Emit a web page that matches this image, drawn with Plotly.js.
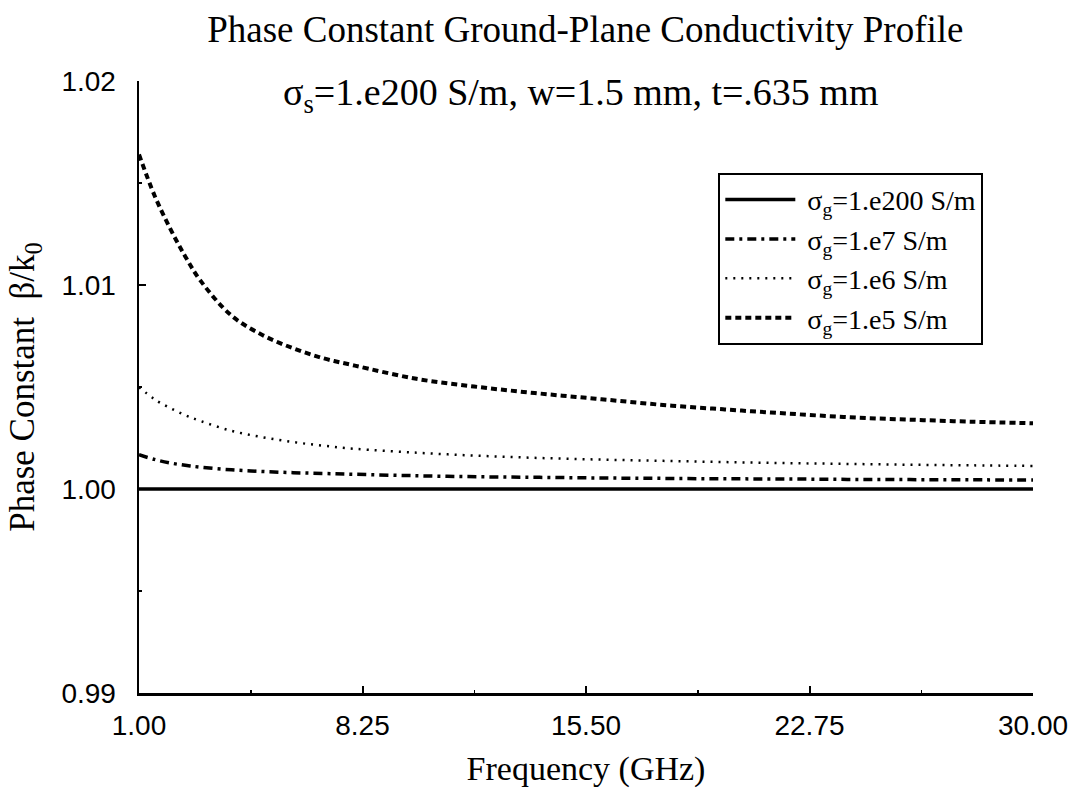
<!DOCTYPE html>
<html>
<head>
<meta charset="utf-8">
<script src="https://cdn.plot.ly/plotly-3.0.1.min.js"></script>
<style>html,body{margin:0;padding:0;background:#fff;}#chart{width:1073px;height:789px;}</style>
</head>
<body>
<div id="chart"></div>
<script>
// Frequency (GHz)
const freq = [1, 1.5, 2, 2.5, 3, 4, 5, 6, 7, 8, 10, 12, 14, 16, 18, 20, 22, 24, 26, 28, 30];
// Phase constant beta/k0 for each ground-plane conductivity
const beta_g200 = [1.0, 1.0, 1.0, 1.0, 1.0, 1.0, 1.0, 1.0, 1.0, 1.0, 1.0, 1.0, 1.0, 1.0, 1.0, 1.0, 1.0, 1.0, 1.0, 1.0, 1.0];
const beta_g7 = [1.00168, 1.00145, 1.00128, 1.00116, 1.00107, 1.00094, 1.00086, 1.00080, 1.00076, 1.00072, 1.00065, 1.00060, 1.00057, 1.00054, 1.00052, 1.00050, 1.00049, 1.00047, 1.00046, 1.00045, 1.00044];
const beta_g6 = [1.00500, 1.00440, 1.00398, 1.00362, 1.00333, 1.00285, 1.00254, 1.00230, 1.00212, 1.00197, 1.00178, 1.00163, 1.00152, 1.00144, 1.00138, 1.00132, 1.00127, 1.00123, 1.00119, 1.00116, 1.00113];
const beta_g5 = [1.01640, 1.01440, 1.01280, 1.01140, 1.01020, 1.00850, 1.00755, 1.00690, 1.00640, 1.00605, 1.00540, 1.00500, 1.00468, 1.00440, 1.00412, 1.00390, 1.00370, 1.00352, 1.00340, 1.00330, 1.00322];
const seriesNames = ["\u00A0\u03C3<sub>g</sub>=1.e200 S/m", "\u00A0\u03C3<sub>g</sub>=1.e7 S/m", "\u00A0\u03C3<sub>g</sub>=1.e6 S/m", "\u00A0\u03C3<sub>g</sub>=1.e5 S/m"];
const xTickVals = [1, 8.25, 15.5, 22.75, 30];
const yTickVals = [0.99, 1.00, 1.01, 1.02];

const serif = "Liberation Serif, Times New Roman, serif";
const sans = "Liberation Sans, Arial, sans-serif";

const traces = [
  {x: freq, y: beta_g200, name: seriesNames[0], mode: 'lines', line: {color: '#000', width: 3.5, dash: 'solid'}},
  {x: freq, y: beta_g7, name: seriesNames[1], mode: 'lines', line: {color: '#000', width: 3.5, dash: '9px,5px,3px,5px', shape: 'spline', smoothing: 1}},
  {x: freq, y: beta_g6, name: seriesNames[2], mode: 'lines', line: {color: '#000', width: 2.5, dash: '2px,6px', shape: 'spline', smoothing: 1}},
  {x: freq, y: beta_g5, name: seriesNames[3], mode: 'lines', line: {color: '#000', width: 4, dash: '6px,4px', shape: 'spline', smoothing: 1}}
];

const layout = {
  width: 1073, height: 789,
  paper_bgcolor: '#fff', plot_bgcolor: '#fff',
  margin: {l: 139, r: 40, t: 81, b: 96},
  showlegend: true,
  title: {text: 'Phase Constant Ground-Plane Conductivity Profile', font: {family: serif, size: 37, color: '#000'}, x: 0.5455, xanchor: 'center', y: 0.963, yanchor: 'middle'},
  xaxis: {
    range: [1, 30], tickmode: 'array', tickvals: xTickVals, tickformat: '.2f',
    ticks: 'inside', ticklen: 7, tickwidth: 2, tickcolor: '#000', ticklabelstandoff: 6,
    minor: {ticks: 'inside', ticklen: 3, tickwidth: 1.5, tickcolor: '#000', tickmode: 'linear', tick0: 1, dtick: 3.625},
    showline: true, linewidth: 2.5, linecolor: '#000', showgrid: false, zeroline: false,
    tickfont: {family: sans, size: 28, color: '#000'},
    title: {text: 'Frequency (GHz)', font: {family: serif, size: 34, color: '#000'}, standoff: 16}
  },
  yaxis: {
    range: [0.99, 1.02], tickmode: 'array', tickvals: yTickVals, tickformat: '.2f',
    ticks: 'inside', ticklen: 7, tickwidth: 2, tickcolor: '#000', ticklabelstandoff: 15,
    minor: {ticks: 'inside', ticklen: 3, tickwidth: 1.5, tickcolor: '#000', tickmode: 'linear', tick0: 0.99, dtick: 0.005},
    showline: true, linewidth: 2.5, linecolor: '#000', showgrid: false, zeroline: false,
    tickfont: {family: sans, size: 28, color: '#000'},
    title: {text: 'Phase Constant\u00A0\u00A0\u03B2/k<sub>0</sub>', font: {family: serif, size: 35, color: '#000'}, standoff: 16}
  },
  legend: {
    x: 0.648, xanchor: 'left', y: 0.85, yanchor: 'top',
    bgcolor: '#fff', bordercolor: '#000', borderwidth: 2,
    font: {family: serif, size: 28, color: '#000'},
    itemwidth: 70, tracegroupgap: 0
  },
  annotations: [{
    text: '\u03C3<sub>s</sub>=1.e200 S/m, w=1.5 mm, t=.635 mm',
    xref: 'paper', yref: 'paper', x: 0.494, y: 0.977, xanchor: 'center', yanchor: 'middle',
    showarrow: false, font: {family: serif, size: 38, color: '#000'}
  }]
};

Plotly.newPlot('chart', traces, layout, {displayModeBar: false, staticPlot: true});
</script>
</body>
</html>
